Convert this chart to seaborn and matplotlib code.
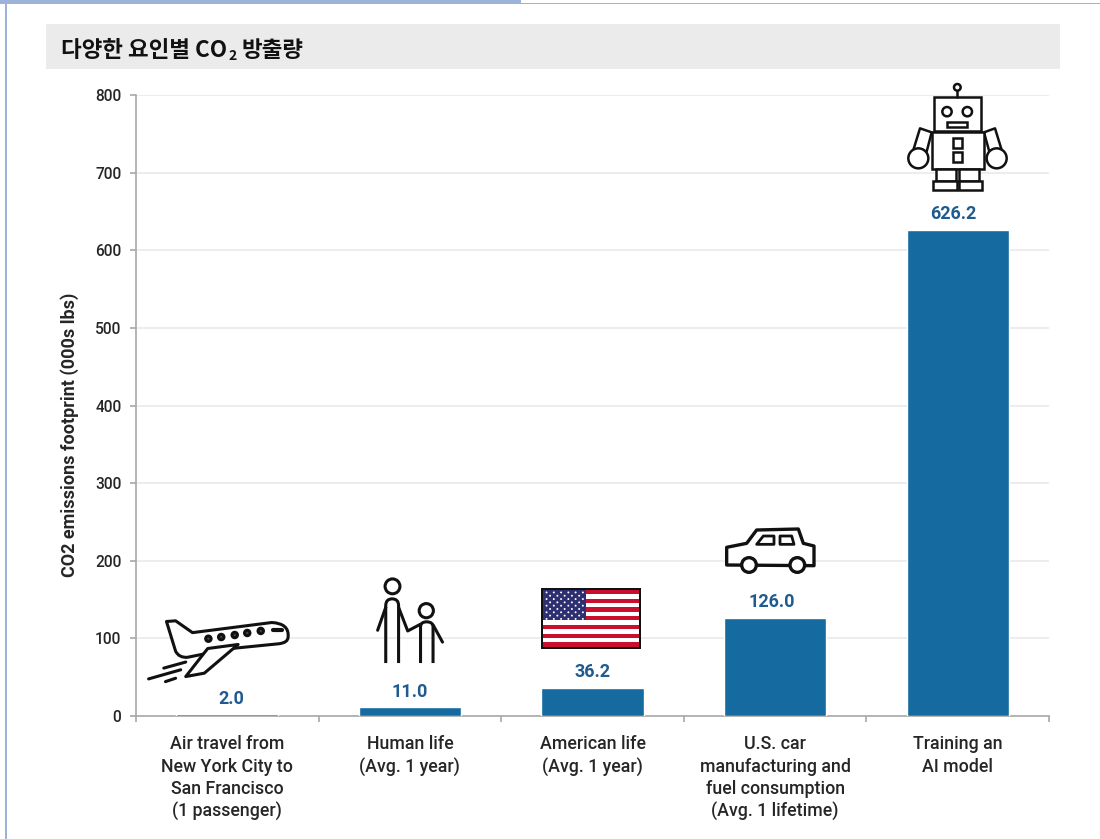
import matplotlib
matplotlib.use("Agg")
import matplotlib.pyplot as plt
import numpy as np
import pandas as pd
import seaborn as sns
from matplotlib.patches import Circle, Polygon, Rectangle
from matplotlib.lines import Line2D
from matplotlib.path import Path
from matplotlib.patches import PathPatch
from matplotlib.transforms import Affine2D

categories = [
    "Air travel from\nNew York City to\nSan Francisco\n(1 passenger)",
    "Human life\n(Avg. 1 year)",
    "American life\n(Avg. 1 year)",
    "U.S. car\nmanufacturing and\nfuel consumption\n(Avg. 1 lifetime)",
    "Training an\nAI model",
]
emissions = [2.0, 11.0, 36.2, 126.0, 626.2]
value_labels = ["2.0", "11.0", "36.2", "126.0", "626.2"]
label_nudge = [4, 0, 0, -3, -4]
y_ticks = [0, 100, 200, 300, 400, 500, 600, 700, 800]
y_label = "CO2 emissions footprint (000s lbs)"

BAR = "#156aa0"
VALUE = "#1f5b8f"
TEXT = "#262626"
AXIS = "#a8a8a8"
W, H = 1100, 839

sns.set_style("white")
plt.rcParams["font.family"] = ["Roboto", "Noto Sans CJK KR", "DejaVu Sans"]

fig = plt.figure(figsize=(W / 100, H / 100), dpi=100, facecolor="white")
ax = fig.add_axes([136 / W, 1 - 716 / H, 913 / W, 621 / H])

df = pd.DataFrame({"category": categories, "emissions": emissions})
sns.barplot(data=df, x="category", y="emissions", color=BAR, saturation=1,
            width=0.56, ax=ax, zorder=3)

ax.set_xlim(-0.5, 4.5)
ax.set_ylim(0, 800)
ax.set_yticks(y_ticks)
ax.set_xlabel("")
ax.set_ylabel(y_label, fontsize=13, fontweight="bold", color=TEXT)
ax.yaxis.set_label_coords((79 - 136) / 913, (716 - 435) / 621)
ax.yaxis.grid(True, color="#ececec", lw=1.3, zorder=0)
ax.xaxis.grid(False)
ax.set_axisbelow(True)
for side in ("top", "right"):
    ax.spines[side].set_visible(False)
for side in ("left", "bottom"):
    ax.spines[side].set_color(AXIS)
    ax.spines[side].set_linewidth(1.2)

ax.set_xticks(range(len(categories)))
ax.set_xticklabels(categories, fontsize=12.8, fontweight="medium", color=TEXT,
                   linespacing=1.3)
ax.set_xticks(np.arange(-0.5, 5, 1), minor=True)
ax.tick_params(axis="x", which="major", bottom=False, length=0, pad=14)
ax.tick_params(axis="x", which="minor", bottom=True, length=4.5, color=AXIS, width=1.2)
ax.tick_params(axis="y", left=True, length=4.5, color=AXIS, width=1.2, pad=6,
               labelsize=11.2, labelcolor=TEXT)
for lab in ax.get_yticklabels():
    lab.set_fontweight("medium")

for i, (v, s, dx) in enumerate(zip(emissions, value_labels, label_nudge)):
    ax.annotate(s, (i, v), xytext=(dx * 0.72, 5), textcoords="offset points",
                ha="center", va="bottom", fontsize=13, fontweight="bold",
                color=VALUE)

# Page furniture: pixel-space transform, origin at top left
px = Affine2D().scale(1, -1).translate(0, H)
frame = "#9db2d9"
fig.add_artist(Rectangle((0, 0), 521, 4, transform=px, fc=frame, ec="none"))
fig.add_artist(Rectangle((521, 3), W - 521, 1.2, transform=px, fc=frame, ec="none"))
fig.add_artist(Rectangle((5, 0), 1.5, H, transform=px, fc=frame, ec="none"))
fig.add_artist(Rectangle((46, 24), 1014, 45, transform=px, fc="#ebebeb", ec="none"))

title_font = dict(family=["Noto Sans CJK KR", "DejaVu Sans"], color="#111111",
                  fontweight="bold", transform=px, va="center_baseline")
renderer = fig.canvas.get_renderer()
t1 = fig.text(61, 48, "다양한 요인별 CO", fontsize=16.2, **title_font)
x1 = t1.get_window_extent(renderer).x1
t2 = fig.text(x1 + 1, 55, "2", fontsize=10, **title_font)
x2 = t2.get_window_extent(renderer).x1
fig.text(x2 + 5, 48, "방출량", fontsize=16.2, **title_font)


def icon(ox, oy, scale):
    """Return a transform placing icon drawing units on the page."""
    return Affine2D().scale(1 / scale).translate(ox, oy) + px


def poly(t, pts, lw=2.2, fc="none", ec="#111111", closed=True):
    fig.add_artist(Polygon(pts, closed=closed, transform=t, fc=fc, ec=ec, lw=lw,
                           joinstyle="round"))


def ring(t, x, y, r, lw=2.2, fc="white"):
    fig.add_artist(Circle((x, y), r, transform=t, fc=fc, ec="#111111", lw=lw))


def box(t, x0, x1, y0, y1, lw=2.2, fc="white"):
    fig.add_artist(Rectangle((x0, y0), x1 - x0, y1 - y0, transform=t, fc=fc,
                             ec="#111111", lw=lw))


def stroke(t, xs, ys, lw=2.2):
    fig.add_artist(Line2D(xs, ys, transform=t, color="#111111", lw=lw,
                          solid_capstyle="round", solid_joinstyle="round"))


def curve(t, verts, codes, lw=2.2, fc="none"):
    fig.add_artist(PathPatch(Path(verts, codes), transform=t, fc=fc,
                             ec="#111111", lw=lw, joinstyle="round"))


C3 = Path.CURVE3
L = Path.LINETO
M = Path.MOVETO
Z = Path.CLOSEPOLY

# Aeroplane
t = icon(130, 560, 2.96)
curve(t, [(108, 182), (135, 180), (185, 215), (420, 185), (472, 188), (468, 228),
          (468, 245), (440, 248), (300, 262), (170, 288), (145, 290), (135, 270),
          (108, 182)],
      [M, L, L, L, C3, C3, C3, C3, L, L, C3, C3, Z], fc="white")
poly(t, [(230, 262), (320, 250), (220, 335), (165, 345)], fc="white")
for wx, wy in [(232, 233), (270, 228), (310, 222), (347, 216), (387, 210)]:
    ring(t, wx, wy, 8, lw=2.2, fc="#444444")
stroke(t, [422, 450], [206, 206], lw=3)
stroke(t, [55, 150], [352, 325])
stroke(t, [100, 165], [320, 302])
stroke(t, [105, 135], [360, 350])

# Adult and child
ring(t, 777, 78, 22)
curve(t, [(757, 305), (757, 135), (757, 115), (776, 115), (795, 115), (795, 135), (795, 305)],
      [M, L, C3, C3, C3, C3, L])
stroke(t, [757, 733], [140, 208])
stroke(t, [795, 822, 860], [140, 210, 190])
ring(t, 877, 150, 21)
curve(t, [(860, 305), (860, 198), (860, 183), (878, 183), (897, 183), (897, 198), (897, 305)],
      [M, L, C3, C3, C3, C3, L])
stroke(t, [897, 925], [192, 243])

# Flag
fig.add_artist(Rectangle((1217, 82), 296, 181, transform=t, fc="#111111", ec="none"))
n_stripes = 13
sx0, sx1, sy0, sy1 = 1223, 1507, 88, 257
sh = (sy1 - sy0) / n_stripes
for k in range(n_stripes):
    col = "#c8102e" if k % 2 == 0 else "white"
    fig.add_artist(Rectangle((sx0, sy0 + k * sh), sx1 - sx0, sh, transform=t,
                             fc=col, ec="none"))
fig.add_artist(Rectangle((sx0, sy0), 128, 7 * sh, transform=t, fc="#2d2f70", ec="none"))
for row in range(9):
    cols = 6 if row % 2 == 0 else 5
    off = 0 if row % 2 == 0 else 10.5
    for c in range(cols):
        fig.add_artist(Circle((sx0 + 10 + off + c * 21.5, sy0 + 8 + row * 9.8), 2.9,
                              transform=t, fc="white", ec="none"))

# Car
t = icon(700, 510, 3)
poly(t, [(80, 165), (80, 112), (140, 100), (170, 60), (295, 57), (310, 100),
         (342, 108), (342, 167)], fc="white", lw=2.4)
poly(t, [(170, 103), (190, 78), (222, 78), (222, 103)], lw=2)
poly(t, [(240, 78), (275, 78), (282, 103), (240, 103)], lw=2)
ring(t, 147, 165, 22, lw=2.4)
ring(t, 292, 165, 22, lw=2.4)

# Robot
t = icon(700, 70, 3)
stroke(t, [772, 772], [62, 82], lw=1.8)
ring(t, 772, 52, 10, lw=1.8)
poly(t, [(660, 175), (695, 187), (680, 245), (640, 240)], lw=1.8)
poly(t, [(885, 175), (852, 187), (868, 245), (905, 240)], lw=1.8)
ring(t, 655, 265, 30, lw=1.8)
ring(t, 890, 265, 30, lw=1.8)
box(t, 703, 842, 82, 183, lw=1.8)
ring(t, 741, 125, 14, lw=1.8)
ring(t, 802, 125, 14, lw=1.8)
box(t, 742, 800, 155, 172, lw=1.8)
box(t, 695, 852, 185, 298, lw=1.8)
box(t, 758, 786, 205, 235, lw=1.8)
box(t, 758, 786, 247, 275, lw=1.8)
box(t, 708, 768, 298, 332, lw=1.8)
box(t, 778, 838, 298, 332, lw=1.8)
box(t, 698, 770, 332, 360, lw=1.8)
box(t, 778, 845, 332, 360, lw=1.8)

fig.savefig("out.png", dpi=100, facecolor="white")
